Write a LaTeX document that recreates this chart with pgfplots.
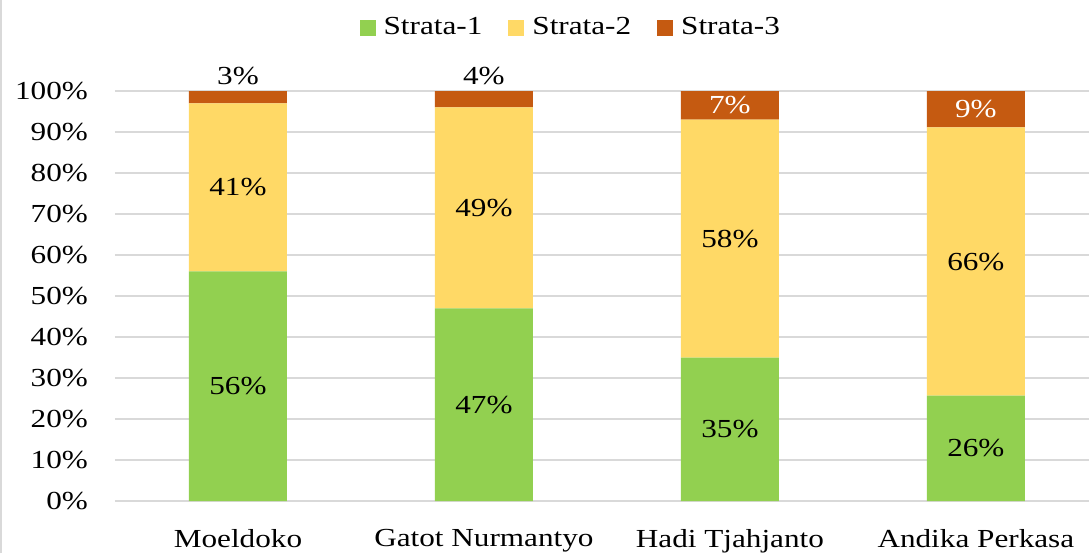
\documentclass[border=0pt]{standalone}
\usepackage{fontspec}
\setmainfont{Liberation Serif}[FakeStretch=1.2]
\usepackage{pgfplots}
\pgfplotsset{compat=1.18}
\usepackage{pgfplotstable}
\definecolor{strataA}{HTML}{92D050}
\definecolor{strataB}{HTML}{FFD966}
\definecolor{strataC}{HTML}{C55A11}
\definecolor{gridgray}{HTML}{D9D9D9}

% shares per commander; l = printed label, out = Strata-3 label sits above the bar, w3 = 100 for white text
\pgfplotstableread{
x s1 s2 s3 l1 l2 l3 out w3
0 56 41 3 56 41 3 1 0
1 47 49 4 47 49 4 1 0
2 35 58 7 35 58 7 0 100
3 25.7 65.4 8.9 26 66 9 0 100
}\shares
% label heights: middle of each segment
\pgfplotstablecreatecol[create col/expr={\thisrow{s1}/2}]{m1}\shares
\pgfplotstablecreatecol[create col/expr={\thisrow{s1}+\thisrow{s2}/2}]{m2}\shares
\pgfplotstablecreatecol[create col/expr={\thisrow{out}==1 ? 103.7 : \thisrow{s1}+\thisrow{s2}+\thisrow{s3}/2}]{m3}\shares

\pgfplotsset{panel/.style={
  at={(0pt,0pt)}, anchor=south west,
  scale only axis, width=487pt, height=205pt,
  xmin=-0.5, xmax=3.46, ymin=0, ymax=100,
}}

\begin{document}
\begin{tikzpicture}[font=\fontsize{13}{15}\selectfont]
\useasboundingbox (-57.5pt,-26pt) rectangle (487pt,250.5pt);
\draw[gridgray, line width=1pt] (-57pt,-26pt) -- (-57pt,250.5pt);
\begin{axis}[
  panel,
  ybar stacked, bar width=49pt,
  xtick={0,1,2,3},
  xticklabels={Moeldoko,Gatot Nurmantyo,Hadi Tjahjanto,Andika Perkasa},
  ytick={0,10,...,100},
  yticklabel={\pgfmathprintnumber{\tick}\%},
  /pgf/number format/assume math mode=true,
  yticklabel style={xshift=-10pt},
  xticklabel style={yshift=-10.5pt},
  axis line style={draw=none}, tick style={draw=none},
  ymajorgrids, major grid style={gridgray, line width=1pt},
  legend columns=-1,
  legend image code/.code={\path[#1,draw=none] (0pt,-4pt) rectangle (8pt,4pt);},
  legend style={at={(0.469,1.154)}, anchor=center, draw=none, fill=none,
    /tikz/every even column/.append style={column sep=11pt},
    /tikz/every odd column/.append style={column sep=2pt}},
]
\addplot[fill=strataA, draw=none] table[x=x, y=s1]{\shares};
\addlegendentry{Strata-1}
\addplot[fill=strataB, draw=none] table[x=x, y=s2]{\shares};
\addlegendentry{Strata-2}
\addplot[fill=strataC, draw=none] table[x=x, y=s3]{\shares};
\addlegendentry{Strata-3}
\end{axis}
% data labels on a matching overlay
\begin{axis}[panel, hide axis, clip=false]
\addplot[draw=none, mark=none, point meta=explicit symbolic,
  nodes near coords={\pgfplotspointmeta\%}, nodes near coords style={anchor=center}]
  table[x=x, y=m1, meta=l1]{\shares};
\addplot[draw=none, mark=none, point meta=explicit symbolic,
  nodes near coords={\pgfplotspointmeta\%}, nodes near coords style={anchor=center}]
  table[x=x, y=m2, meta=l2]{\shares};
\addplot[draw=none, mark=none, point meta=explicit symbolic,
  visualization depends on={\thisrow{w3}\as\ww},
  nodes near coords={\pgfplotspointmeta\%}, nodes near coords style={anchor=center, text=white!\ww!black}]
  table[x=x, y=m3, meta=l3]{\shares};
\end{axis}
\end{tikzpicture}
\end{document}
